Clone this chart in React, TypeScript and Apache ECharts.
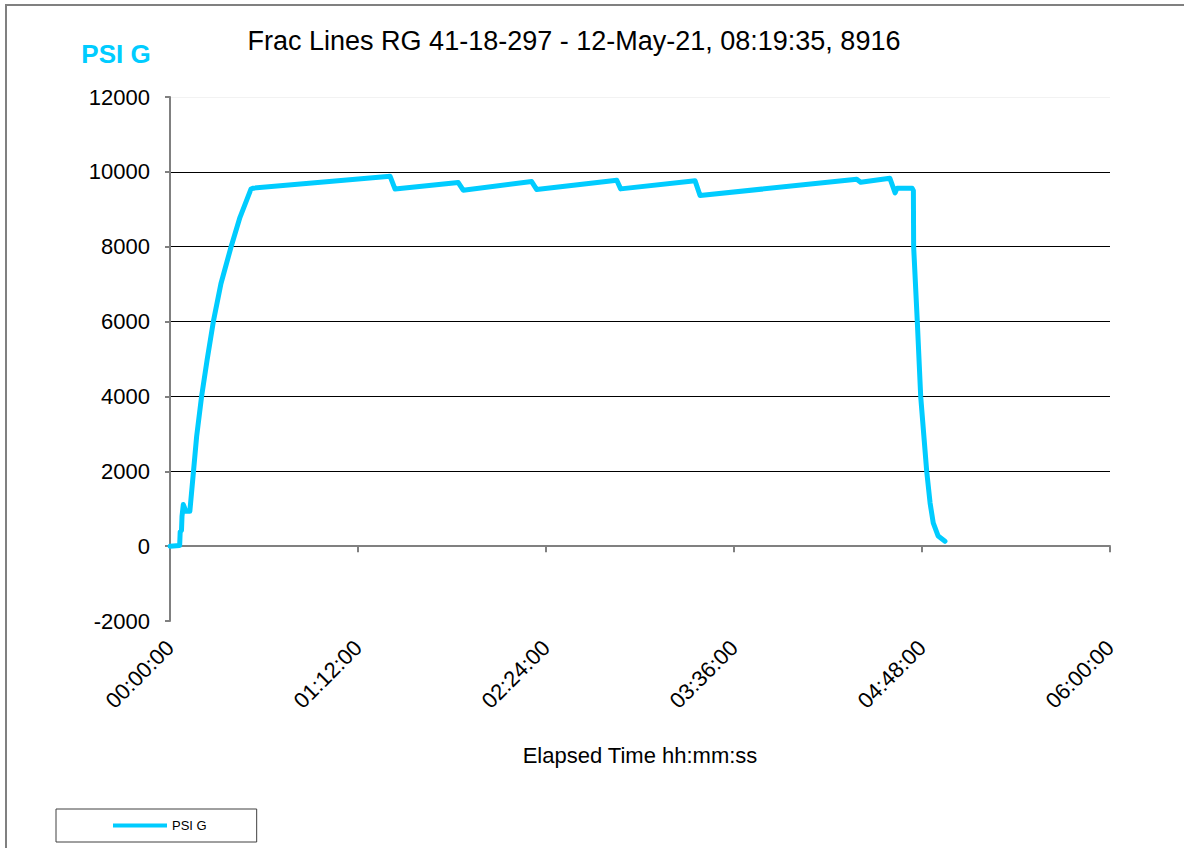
import React, { useEffect, useRef } from "react";
import * as echarts from "echarts";

const chartTitle = "Frac Lines RG 41-18-297 - 12-May-21, 08:19:35, 8916";
const seriesName = "PSI G";
const xAxisTitle = "Elapsed Time hh:mm:ss";

// elapsed time in minutes
const elapsedMinutes = [
  0, 3.7, 3.9, 4.4, 4.6, 5.1, 6.1, 7.6, 9.0, 10.2,
  12.1, 14.2, 16.6, 19.5, 23.4, 26.8, 31.0, 31.9, 84.3, 86.2,
  110.4, 112.3, 138.5, 140.4, 171.1, 172.6, 201.1, 203.0, 263.0, 264.5,
  275.7, 277.7, 278.4, 284.2, 284.7, 284.8, 286.2, 287.5, 289.8, 291.1,
  292.3, 294.2, 296.8,
];
const psiG = [
  0, 20, 380, 420, 800, 1110, 930, 930, 2000, 2930,
  4000, 4970, 6000, 7010, 8000, 8785, 9540, 9565, 9880, 9540,
  9715, 9510, 9740, 9530, 9775, 9545, 9760, 9370, 9800, 9720,
  9830, 9440, 9560, 9565, 9500, 8000, 6000, 4000, 2000, 1150,
  620, 270, 130,
];

const xMin = 0;
const xMax = 360;
const xStep = 72;
const yMin = -2000;
const yMax = 12000;
const yStep = 2000;

const FONT = "'Liberation Sans', Arial, sans-serif";
const CYAN = "#00CCFF";

function fmtTime(m: number): string {
  const totalSec = Math.round(m * 60);
  const h = Math.floor(totalSec / 3600);
  const mm = Math.floor((totalSec % 3600) / 60);
  const ss = totalSec % 60;
  const p = (n: number) => String(n).padStart(2, "0");
  return `${p(h)}:${p(mm)}:${p(ss)}`;
}

export default function App() {
  const ref = useRef<HTMLDivElement>(null);

  useEffect(() => {
    if (!ref.current) return;
    const chart = echarts.init(ref.current, null, { renderer: "svg" });
    const data = elapsedMinutes.map((t, i) => [t, psiG[i]]);
    // split line colors, one per tick from -2000 to 12000
    const splitColors = [
      "rgba(0,0,0,0)",
      "rgba(0,0,0,0)",
      "#000000",
      "#000000",
      "#000000",
      "#000000",
      "#000000",
      "#f2f2f2",
    ];
    chart.setOption({
      animation: false,
      backgroundColor: "#ffffff",
      textStyle: { fontFamily: FONT },
      grid: { left: 170, top: 97, width: 940, height: 524, containLabel: false },
      graphic: [
        {
          type: "rect",
          shape: { x: 6, y: 5, width: 1400, height: 1000 },
          style: { fill: "none", stroke: "#808080", lineWidth: 2 },
          silent: true,
        },
        {
          type: "text",
          x: 574,
          y: 41,
          style: {
            text: chartTitle,
            fontFamily: FONT,
            fontSize: 27,
            fill: "#000000",
            align: "center",
            verticalAlign: "middle",
          },
        },
        {
          type: "text",
          x: 116,
          y: 54,
          style: {
            text: seriesName,
            fontFamily: FONT,
            fontSize: 26,
            fontWeight: "bold",
            fill: CYAN,
            align: "center",
            verticalAlign: "middle",
          },
        },
      ],
      legend: {
        left: 56,
        top: 809,
        padding: [10, 50, 10, 57],
        borderColor: "#404040",
        borderWidth: 1,
        itemWidth: 54,
        itemHeight: 14,
        icon: "path://M0,5 L54,5 L54,9 L0,9 Z",
        itemStyle: { color: CYAN },
        textStyle: { fontFamily: FONT, fontSize: 13, color: "#000000" },
        data: [seriesName],
      },
      xAxis: {
        type: "value",
        min: xMin,
        max: xMax,
        interval: xStep,
        name: xAxisTitle,
        nameLocation: "middle",
        nameGap: 123,
        nameTextStyle: { fontFamily: FONT, fontSize: 22, color: "#000000" },
        axisLine: { onZero: true, lineStyle: { color: "#808080", width: 2 } },
        axisTick: { show: true, length: 6, lineStyle: { color: "#808080", width: 2 } },
        axisLabel: {
          rotate: 45,
          margin: 23,
          fontFamily: FONT,
          fontSize: 22,
          color: "#000000",
          formatter: (v: number) => fmtTime(v),
        },
        splitLine: { show: false },
      },
      yAxis: {
        type: "value",
        min: yMin,
        max: yMax,
        interval: yStep,
        axisLine: { show: true, onZero: false, lineStyle: { color: "#808080", width: 2 } },
        axisTick: { show: true, length: 5, lineStyle: { color: "#808080", width: 2 } },
        axisLabel: {
          margin: 20,
          fontFamily: FONT,
          fontSize: 22,
          color: "#000000",
          formatter: (v: number) => String(v),
        },
        splitLine: { show: true, lineStyle: { color: splitColors, width: 1 } },
      },
      series: [
        {
          name: seriesName,
          type: "line",
          data,
          showSymbol: false,
          symbol: "none",
          smooth: false,
          color: CYAN,
          lineStyle: { color: CYAN, width: 5, cap: "round", join: "round" },
          z: 5,
        },
      ],
    });
    return () => chart.dispose();
  }, []);

  return (
    <div
      ref={ref}
      style={{ position: "absolute", left: 0, top: 0, width: 1184, height: 848 }}
    />
  );
}
